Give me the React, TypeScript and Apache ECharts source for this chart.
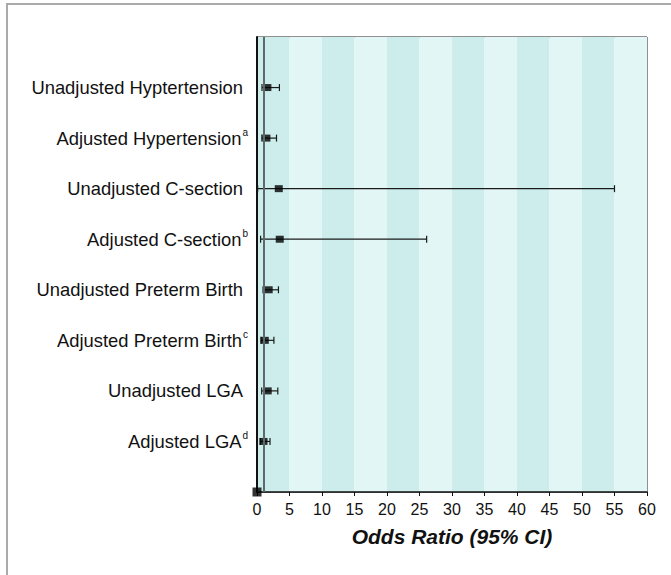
import React, { useEffect, useRef } from "react";
import * as echarts from "echarts";

const categories = [
  "Unadjusted Hyptertension",
  "Adjusted Hypertension",
  "Unadjusted C-section",
  "Adjusted C-section",
  "Unadjusted Preterm Birth",
  "Adjusted Preterm Birth",
  "Unadjusted LGA",
  "Adjusted LGA",
];
const superscripts = ["", "a", "", "b", "", "c", "", "d"];
const oddsRatio = [1.6, 1.45, 3.35, 3.5, 1.8, 1.2, 1.65, 1.0];
const lowerCI = [0.77, 0.75, 0.1, 0.55, 0.93, 0.6, 0.72, 0.5];
const upperCI = [3.45, 3.0, 55.0, 26.1, 3.3, 2.6, 3.2, 2.0];
const xMin = 0;
const xMax = 60;
const xInterval = 5;
const originPoint = [0, 0];
const referenceOR = 1;

const FONT = "'Liberation Sans', Arial, Helvetica, sans-serif";

export default function App() {
  const ref = useRef<HTMLDivElement>(null);
  useEffect(() => {
    if (!ref.current) return;
    const chart = echarts.init(ref.current, undefined, { renderer: "svg" });
    const n = categories.length;
    const rowY = categories.map((_, i) => n - i);
    const errData = categories.map((_, i) => [lowerCI[i], upperCI[i], rowY[i]]);
    const pointData = categories.map((_, i) => [oddsRatio[i], rowY[i]]);

    chart.setOption({
      animation: false,
      backgroundColor: "#ffffff",
      textStyle: { fontFamily: FONT },
      graphic: [
        {
          type: "rect",
          shape: { x: 7, y: 4, width: 700, height: 620 },
          style: { fill: "none", stroke: "#aaaaaa", lineWidth: 2 },
          silent: true,
          z: 100,
        },
      ],
      grid: {
        left: 257,
        top: 37,
        right: 24,
        bottom: 83,
        show: true,
        borderColor: "#222",
        borderWidth: 1,
        backgroundColor: "transparent",
      },
      xAxis: {
        type: "value",
        min: xMin,
        max: xMax,
        interval: xInterval,
        name: "Odds Ratio (95% CI)",
        nameLocation: "middle",
        nameGap: 34,
        nameTextStyle: {
          fontFamily: FONT,
          fontSize: 21,
          fontWeight: "bold",
          fontStyle: "italic",
          color: "#111",
        },
        axisLine: { show: true, lineStyle: { color: "#111", width: 1.5 } },
        axisTick: { show: true, length: 4, lineStyle: { color: "#111" } },
        axisLabel: { fontSize: 16, color: "#111", margin: 9, fontFamily: FONT },
        splitLine: { show: false },
        splitArea: { show: true, areaStyle: { color: ["#CCEDEC", "#E3F6F6"] } },
      },
      yAxis: {
        type: "value",
        min: 0,
        max: n + 1,
        interval: 1,
        axisLine: { show: true, lineStyle: { color: "#111", width: 2 } },
        axisTick: { show: false },
        splitLine: { show: false },
        axisLabel: {
          margin: 9,
          fontFamily: FONT,
          formatter: (v: number) => {
            const i = n - Math.round(v);
            if (i < 0 || i >= n || Math.round(v) < 1) return "";
            const sup = superscripts[i];
            if (sup) return `{m|${categories[i]}}{s|${sup}}`;
            return `{p|${categories[i]}}`;
          },
          rich: {
            m: { fontSize: 18.4, color: "#111", fontFamily: FONT, lineHeight: 22 },
            p: { fontSize: 18.4, color: "#111", fontFamily: FONT, lineHeight: 22, padding: [0, 5, 0, 0] },
            s: { fontSize: 10, color: "#111", fontFamily: FONT, verticalAlign: "top", lineHeight: 22, padding: [0, 0, 0, 1] },
          },
        },
      },
      series: [
        {
          type: "custom",
          data: errData,
          z: 3,
          renderItem: (params: any, api: any) => {
            const lo = api.coord([api.value(0), api.value(2)]);
            const hi = api.coord([api.value(1), api.value(2)]);
            const h = 3.5;
            const st = { stroke: "#1a1a1a", lineWidth: 1.2 };
            return {
              type: "group",
              children: [
                { type: "line", shape: { x1: lo[0], y1: lo[1], x2: hi[0], y2: hi[1] }, style: st },
                { type: "line", shape: { x1: lo[0], y1: lo[1] - h, x2: lo[0], y2: lo[1] + h }, style: st },
                { type: "line", shape: { x1: hi[0], y1: hi[1] - h, x2: hi[0], y2: hi[1] + h }, style: st },
              ],
            };
          },
        },
        {
          type: "scatter",
          data: pointData,
          symbol: "rect",
          symbolSize: [8, 7],
          itemStyle: { color: "#000" },
          z: 4,
          markLine: {
            silent: true,
            symbol: "none",
            label: { show: false },
            lineStyle: { color: "#5b6b6b", width: 2, type: "solid" },
            data: [{ xAxis: referenceOR }],
          },
        },
        {
          type: "scatter",
          data: [originPoint],
          symbol: "rect",
          symbolSize: 9,
          itemStyle: { color: "#000" },
          z: 5,
        },
      ],
    });
    return () => chart.dispose();
  }, []);
  return (
    <div
      ref={ref}
      style={{ position: "fixed", left: 0, top: 0, width: 671, height: 575 }}
    />
  );
}
